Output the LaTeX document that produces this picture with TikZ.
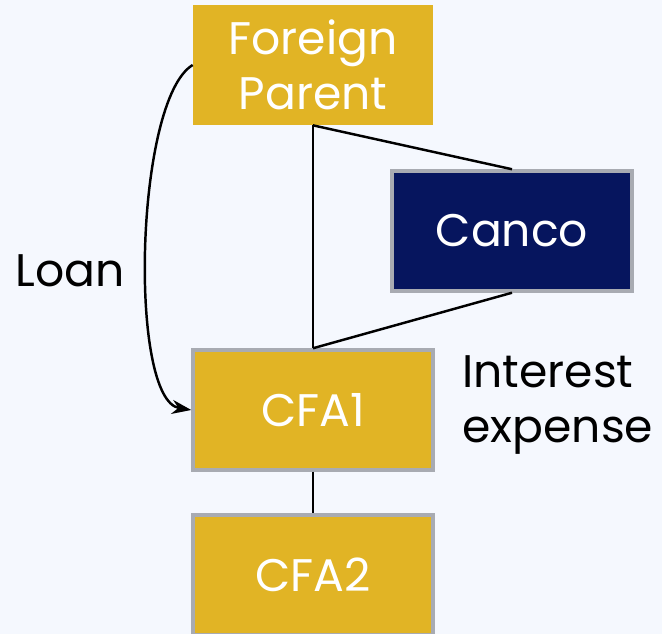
\documentclass[tikz,border=0pt]{standalone}
\usepackage{fontspec}
\setmainfont{Poppins}
\usetikzlibrary{arrows.meta}

\definecolor{gold}{HTML}{E1B425}
\definecolor{navy}{HTML}{06155E}
\definecolor{rim}{HTML}{A8ABB2}
\definecolor{paper}{HTML}{F5F8FE}

\tikzset{
  entity/.style={fill=gold, text=white, minimum width=4.8cm, minimum height=2.4cm,
    inner sep=0pt, align=center, font=\fontsize{26}{31}\selectfont},
  framed/.style={draw=rim, line width=2pt},
  tag/.style={text=black, font=\fontsize{26}{31}\selectfont, inner sep=0pt},
  link/.style={line width=1.4pt}
}

\begin{document}
\begin{tikzpicture}[x=0.02cm, y=-0.02cm]
  % Canvas
  \fill[paper] (0,0) rectangle (662,634);
  \useasboundingbox (0,0) rectangle (662,634);

  % Entities
  \node[entity] (parent) at (313,65) {Foreign\\Parent};
  \node[entity, framed, fill=navy] (canco) at (512,231) {Canco};
  \node[entity, framed] (cfa1) at (313,410) {CFA1};
  \node[entity, framed] (cfa2) at (313,575) {CFA2};

  % Labels
  \node[tag] (loan) at (70,271) {Loan};
  \node[tag, anchor=west, align=left] (interest) at (462,405) {Interest\\expense};

  % Ownership lines
  \draw[link] (parent.south) -- (cfa1.north);
  \draw[link] (parent.south) -- (canco.north);
  \draw[link] (cfa1.north) -- (canco.south);
  \draw[link] (cfa1.south) -- (cfa2.north);

  % Loan
  \draw[link, -{Stealth[length=11pt, width=8pt]}]
    (parent.west) .. controls +(-58,35) and +(-63,-10) .. (cfa1.west);
\end{tikzpicture}
\end{document}
